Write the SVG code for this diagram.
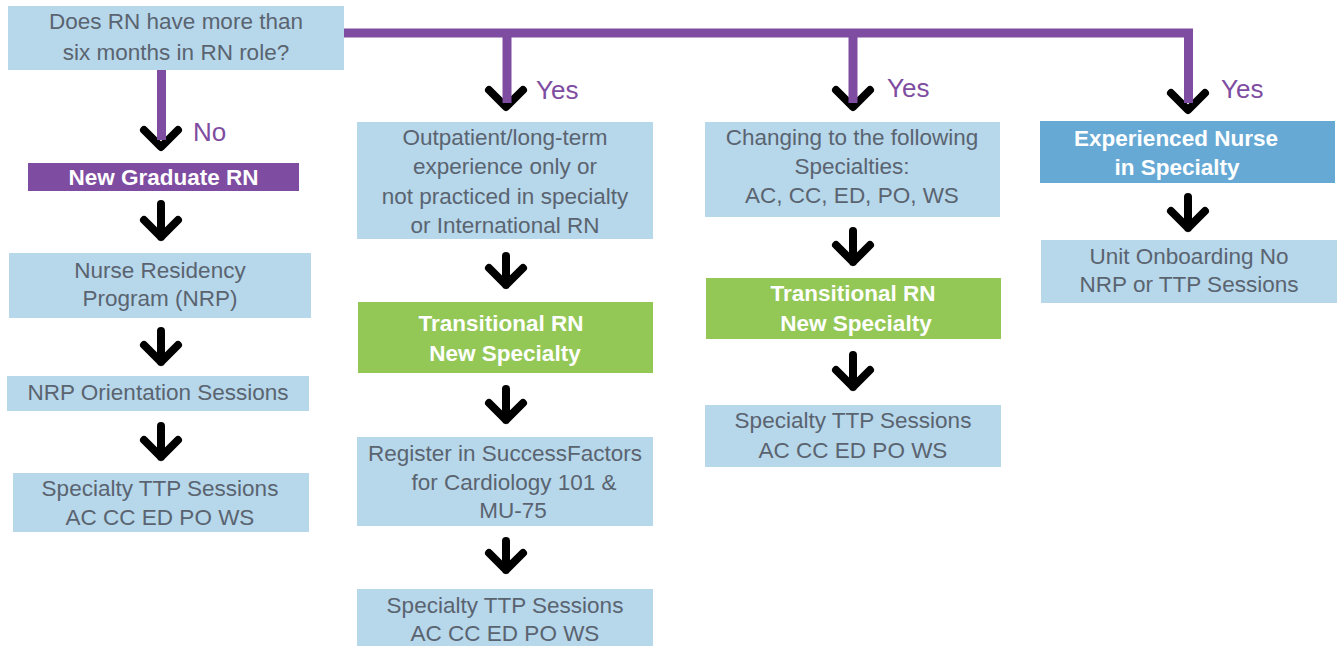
<svg xmlns="http://www.w3.org/2000/svg" width="1342" height="646" viewBox="0 0 1342 646">
<style>
.lb{fill:#B7D7EB}
.pu{fill:#7E4CA0}
.gr{fill:#93C857}
.sb{fill:#66A9D5}
.t{font-family:"Liberation Sans",Arial,sans-serif;font-size:22.5px;fill:#5A6470;text-anchor:middle}
.w{font-family:"Liberation Sans",Arial,sans-serif;font-size:22.5px;font-weight:bold;fill:#FFFFFF;text-anchor:middle}
.lab{font-family:"Liberation Sans",Arial,sans-serif;font-size:26px;fill:#7E4CA0}
.pl{stroke:#7E4CA0;stroke-width:9;fill:none}
.ar{stroke:#000;stroke-width:8;fill:none;stroke-linecap:round;stroke-linejoin:round}
</style>
<rect width="1342" height="646" fill="#FFFFFF"/>
<g id="connectors">
  <path class="ar" d="M144,130 L161,147 L178,130"/>
  <path class="ar" d="M489,90 L506,107 L523,90"/>
  <path class="ar" d="M836,90 L853,107 L870,90"/>
  <path class="ar" d="M1171,93 L1188,110 L1205,93"/>
  <path class="pl" d="M161.5,70 V140"/>
  <path class="pl" d="M344,33 H1188.5 V103" stroke-width="8"/>
  <path class="pl" d="M507,33 V103"/>
  <path class="pl" d="M853,33 V103"/>
  <text class="lab" x="193" y="141">No</text>
  <text class="lab" x="536" y="99">Yes</text>
  <text class="lab" x="887" y="97">Yes</text>
  <text class="lab" x="1221" y="98">Yes</text>
  <path class="ar" d="M161,204 V237 M144,220 L161,237 L178,220"/>
  <path class="ar" d="M161,331 V362 M144,345 L161,362 L178,345"/>
  <path class="ar" d="M161,426 V457 M144,440 L161,457 L178,440"/>
  <path class="ar" d="M506,256 V285 M489,268 L506,285 L523,268"/>
  <path class="ar" d="M506,389 V420 M489,403 L506,420 L523,403"/>
  <path class="ar" d="M506,541 V570 M489,553 L506,570 L523,553"/>
  <path class="ar" d="M853,231 V262 M836,245 L853,262 L870,245"/>
  <path class="ar" d="M853,355 V387 M836,370 L853,387 L870,370"/>
  <path class="ar" d="M1188,197 V228 M1171,211 L1188,228 L1205,211"/>
</g>
<g id="question">
  <rect class="lb" x="8" y="6" width="336" height="64"/>
  <text class="t" x="176" y="29">Does RN have more than</text>
  <text class="t" x="176" y="60">six months in RN role?</text>
</g>
<g id="new-grad">
  <rect class="pu" x="28" y="163" width="271" height="28"/>
  <text class="w" x="163.5" y="185">New Graduate RN</text>
</g>
<g id="nrp">
  <rect class="lb" x="9" y="253" width="302" height="65"/>
  <text class="t" x="160" y="278">Nurse Residency</text>
  <text class="t" x="160" y="306">Program (NRP)</text>
</g>
<g id="nrp-orientation">
  <rect class="lb" x="7" y="376" width="302" height="35"/>
  <text class="t" x="158" y="400">NRP Orientation Sessions</text>
</g>
<g id="ttp-1">
  <rect class="lb" x="13" y="473" width="296" height="59"/>
  <text class="t" x="160" y="496">Specialty TTP Sessions</text>
  <text class="t" x="160" y="525">AC CC ED PO WS</text>
</g>
<g id="outpatient">
  <rect class="lb" x="357" y="122" width="296" height="117"/>
  <text class="t" x="505" y="145">Outpatient/long-term</text>
  <text class="t" x="505" y="174">experience only or</text>
  <text class="t" x="505" y="204">not practiced in specialty</text>
  <text class="t" x="505" y="233">or International RN</text>
</g>
<g id="transitional-2">
  <rect class="gr" x="358" y="302" width="295" height="71"/>
  <text class="w" x="501" y="331">Transitional RN</text>
  <text class="w" x="505" y="361">New Specialty</text>
</g>
<g id="register">
  <rect class="lb" x="357" y="437" width="296" height="89"/>
  <text class="t" x="505" y="461">Register in SuccessFactors</text>
  <text class="t" x="514" y="490">for Cardiology 101 &amp;</text>
  <text class="t" x="513" y="518">MU-75</text>
</g>
<g id="ttp-2">
  <rect class="lb" x="357" y="589" width="296" height="57"/>
  <text class="t" x="505" y="613">Specialty TTP Sessions</text>
  <text class="t" x="505" y="641">AC CC ED PO WS</text>
</g>
<g id="changing">
  <rect class="lb" x="705" y="122" width="295" height="95"/>
  <text class="t" x="852" y="145">Changing to the following</text>
  <text class="t" x="852" y="174">Specialties:</text>
  <text class="t" x="852" y="203">AC, CC, ED, PO, WS</text>
</g>
<g id="transitional-3">
  <rect class="gr" x="706" y="278" width="295" height="61"/>
  <text class="w" x="853" y="301">Transitional RN</text>
  <text class="w" x="856" y="331">New Specialty</text>
</g>
<g id="ttp-3">
  <rect class="lb" x="705" y="405" width="296" height="62"/>
  <text class="t" x="853" y="428">Specialty TTP Sessions</text>
  <text class="t" x="853" y="458">AC CC ED PO WS</text>
</g>
<g id="experienced">
  <rect class="sb" x="1040" y="121" width="295" height="62"/>
  <text class="w" x="1176" y="146">Experienced Nurse</text>
  <text class="w" x="1177" y="175">in Specialty</text>
</g>
<g id="unit-onboarding">
  <rect class="lb" x="1041" y="240" width="296" height="63"/>
  <text class="t" x="1189" y="264">Unit Onboarding No</text>
  <text class="t" x="1189" y="292">NRP or TTP Sessions</text>
</g>
</svg>
